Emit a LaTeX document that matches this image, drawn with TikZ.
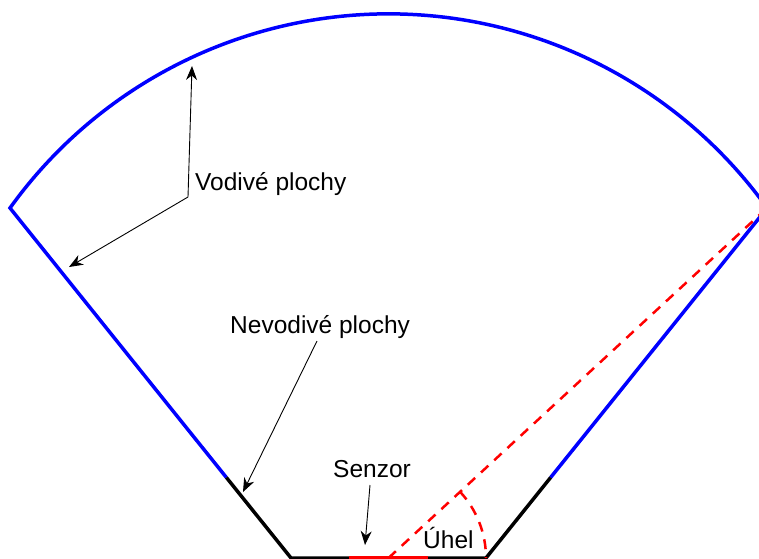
\documentclass[tikz,border=0pt]{standalone}
\usepackage{fontspec}
\setmainfont{Liberation Sans}
\usetikzlibrary{arrows.meta}
\begin{document}
\begin{tikzpicture}[x=1pt,y=1pt,
  cond/.style={line width=3.5pt, draw=blue},
  noncond/.style={line width=3.5pt, draw=black},
  sensorline/.style={line width=3.5pt, draw=red},
  pointer/.style={line width=0.9pt, -{Stealth[length=14pt,width=11pt,inset=4.5pt]}},
  plainline/.style={line width=0.9pt},
  lbl/.style={font=\fontsize{24.5}{29}\selectfont, inner sep=0pt},
  reddash/.style={draw=red, line width=2.5pt, dash pattern=on 10pt off 8pt}]
\useasboundingbox (0,0) rectangle (759,558);
% geometry
\coordinate (L) at (10,350);
\coordinate (R) at (767,350);
\coordinate (BL) at (291,0);
\coordinate (BR) at (486,0);
\coordinate (C) at (388.5,0);
\coordinate (LT) at (226.4,80.5);
\coordinate (RT) at (550.6,80.5);
\coordinate (S1) at (349,0);
\coordinate (S2) at (428,0);
% conductive surfaces
\draw[cond] (LT) -- (L) arc[start angle=144.3, end angle=35.7, radius=466.2] -- (RT);
% non-conductive surfaces
\draw[noncond] (LT) -- (BL) -- (BR) -- (RT);
% sensor
\draw[sensorline] (S1) -- (S2);
% angle
\draw[reddash] (C) -- (R);
\draw[reddash] (C) ++(42.8:97.5) coordinate (A1) arc[start angle=42.8, end angle=0, radius=97.5];
% labels
\node[lbl, anchor=base west] (vod) at (195,368) {Vodivé plochy};
\node[lbl, anchor=base west] (nev) at (230,225) {Nevodivé plochy};
\node[lbl, anchor=base west] (sen) at (333,81) {Senzor};
\node[lbl, anchor=base west] (uhel) at (423,10) {Úhel};
% pointers
\coordinate (J) at (188,361);
\coordinate (tA) at (192,492);
\coordinate (tB) at (69,291);
\coordinate (N0) at (317,217);
\coordinate (tN) at (243,66);
\coordinate (S0) at (370,73);
\coordinate (tS) at (365,13);
\draw[pointer] (J) -- (tA);
\draw[pointer] (J) -- (tB);
\draw[pointer] (N0) -- (tN);
\draw[pointer] (S0) -- (tS);
\end{tikzpicture}
\end{document}
